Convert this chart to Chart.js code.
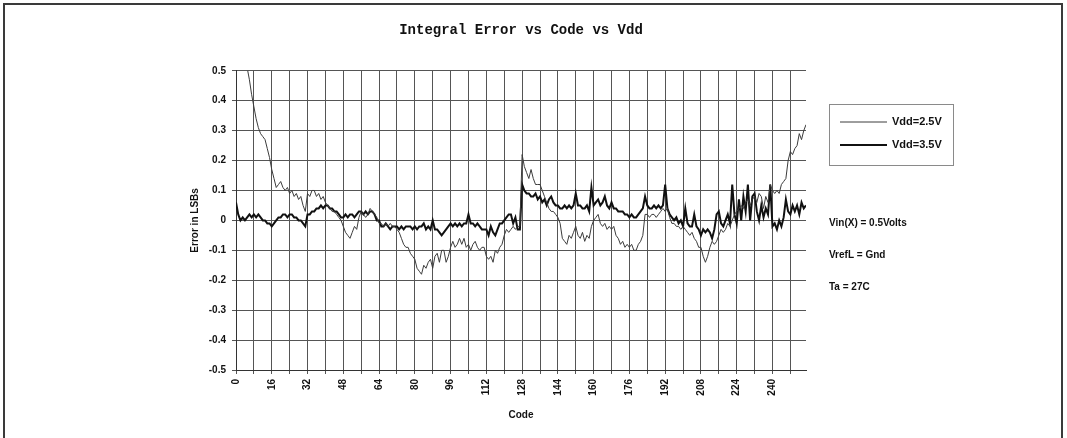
<!DOCTYPE html>
<html>
<head>
<meta charset="utf-8">
<script src="https://cdn.jsdelivr.net/npm/chart.js@4/dist/chart.umd.min.js"></script>
<style>
  html, body { margin: 0; padding: 0; background: #fff; }
  canvas { display: block; }
</style>
</head>
<body>
<canvas id="myChart" width="1067" height="438"></canvas>
<script>
// Integral error (LSB) per code 0..255
var vdd25 = [
  0.62, 0.60, 0.57, 0.55, 0.53, 0.51, 0.47, 0.42, 0.38, 0.34, 0.31, 0.29, 0.28, 0.27, 0.24, 0.21,
  0.17, 0.14, 0.11, 0.12, 0.13, 0.11, 0.10, 0.11, 0.09, 0.10, 0.08, 0.09, 0.07, 0.08, 0.05, 0.03,
  0.09, 0.08, 0.10, 0.10, 0.08, 0.09, 0.07, 0.08, 0.06, 0.05, 0.04, 0.03, 0.03, 0.02, 0.01, 0.00,
  -0.02, -0.04, -0.05, -0.06, -0.04, -0.02, -0.03, 0.01, 0.03, 0.02, 0.01, 0.02, 0.04, 0.03, 0.02, 0.01,
  -0.01, -0.01, -0.02, -0.01, -0.02, -0.01, -0.02, -0.02, -0.03, -0.04, -0.06, -0.08, -0.09, -0.09, -0.11, -0.12,
  -0.13, -0.16, -0.17, -0.18, -0.15, -0.16, -0.14, -0.13, -0.16, -0.12, -0.11, -0.14, -0.10, -0.10, -0.14, -0.12,
  -0.09, -0.07, -0.09, -0.08, -0.06, -0.08, -0.06, -0.09, -0.08, -0.10, -0.08, -0.07, -0.09, -0.10, -0.09, -0.09,
  -0.12, -0.13, -0.12, -0.14, -0.10, -0.11, -0.09, -0.08, -0.05, -0.03, -0.04, -0.03, -0.02, -0.03, -0.02, -0.02,
  0.22, 0.18, 0.16, 0.14, 0.17, 0.14, 0.12, 0.12, 0.12, 0.10, 0.08, 0.06, 0.04, 0.03, 0.03, 0.02,
  0.01, -0.01, -0.06, -0.07, -0.08, -0.05, -0.06, -0.04, -0.02, -0.05, -0.06, -0.04, -0.07, -0.05, -0.06, -0.02,
  0.00, 0.01, 0.02, -0.01, -0.02, -0.01, -0.03, -0.02, -0.03, -0.02, -0.05, -0.06, -0.08, -0.07, -0.09, -0.08,
  -0.09, -0.08, -0.10, -0.10, -0.08, -0.07, -0.05, 0.02, 0.02, 0.01, 0.02, 0.02, 0.01, 0.02, 0.03, 0.04,
  0.03, 0.04, 0.01, -0.01, -0.01, -0.02, -0.02, -0.03, -0.02, -0.03, -0.04, -0.05, -0.04, -0.06, -0.07, -0.09,
  -0.09, -0.12, -0.14, -0.12, -0.09, -0.07, -0.08, -0.07, -0.05, -0.03, -0.04, -0.03, -0.01, -0.02, 0.00, 0.02,
  0.03, 0.04, 0.05, 0.04, 0.06, 0.07, 0.05, 0.07, 0.08, 0.06, 0.09, 0.08, 0.04, 0.08, 0.06, 0.12,
  0.10, 0.09, 0.10, 0.09, 0.12, 0.13, 0.14, 0.20, 0.23, 0.22, 0.24, 0.25, 0.29, 0.27, 0.30, 0.32
];

var vdd35 = [
  0.06, 0.02, 0.00, 0.01, 0.00, 0.01, 0.02, 0.01, 0.02, 0.01, 0.02, 0.01, 0.00, 0.00, -0.01, -0.01,
  -0.02, -0.01, 0.00, 0.01, 0.01, 0.02, 0.02, 0.01, 0.02, 0.02, 0.01, 0.01, 0.00, 0.00, -0.01, -0.02,
  0.02, 0.02, 0.03, 0.03, 0.04, 0.04, 0.05, 0.04, 0.05, 0.05, 0.04, 0.04, 0.03, 0.03, 0.02, 0.01,
  0.01, 0.02, 0.01, 0.02, 0.02, 0.01, 0.02, 0.03, 0.03, 0.02, 0.03, 0.02, 0.03, 0.03, 0.02, 0.00,
  0.00, -0.02, -0.02, -0.01, -0.02, -0.03, -0.02, -0.02, -0.02, -0.03, -0.02, -0.03, -0.02, -0.02, -0.02, -0.03,
  -0.02, -0.03, -0.02, -0.02, -0.01, -0.03, -0.02, -0.03, 0.00, -0.03, -0.03, -0.04, -0.05, -0.04, -0.03, -0.02,
  -0.01, -0.02, -0.01, -0.02, -0.01, -0.02, -0.01, -0.01, 0.02, -0.01, -0.01, -0.02, -0.01, -0.02, -0.03, -0.03,
  -0.03, -0.05, -0.02, -0.04, -0.05, -0.03, -0.01, -0.01, 0.00, 0.01, 0.02, 0.02, -0.01, 0.01, -0.03, -0.03,
  0.12, 0.10, 0.09, 0.09, 0.08, 0.08, 0.09, 0.07, 0.08, 0.06, 0.07, 0.05, 0.07, 0.08, 0.06, 0.05,
  0.05, 0.04, 0.04, 0.05, 0.04, 0.05, 0.04, 0.05, 0.09, 0.05, 0.05, 0.04, 0.04, 0.05, 0.03, 0.11,
  0.05, 0.06, 0.07, 0.05, 0.06, 0.08, 0.05, 0.04, 0.06, 0.04, 0.04, 0.03, 0.03, 0.03, 0.02, 0.02,
  0.01, 0.02, 0.01, 0.01, 0.02, 0.03, 0.04, 0.08, 0.05, 0.04, 0.04, 0.05, 0.04, 0.05, 0.04, 0.05,
  0.12, 0.04, 0.02, 0.01, 0.00, 0.01, -0.01, 0.00, -0.02, 0.04, -0.01, -0.02, -0.02, 0.02, -0.02, -0.03,
  -0.05, -0.03, -0.04, -0.03, -0.04, -0.06, -0.03, 0.02, 0.03, -0.01, -0.02, 0.00, 0.02, -0.01, 0.12, 0.02,
  -0.01, 0.07, 0.00, 0.08, 0.03, 0.12, 0.00, 0.08, 0.09, 0.03, 0.00, 0.05, 0.01, 0.04, 0.02, 0.12,
  -0.02, -0.01, -0.03, 0.00, -0.02, 0.01, 0.07, 0.03, 0.02, 0.05, 0.03, 0.05, 0.02, 0.06, 0.04, 0.05
];

var seriesNames = ['Vdd=2.5V', 'Vdd=3.5V'];
var notes = ['Vin(X) = 0.5Volts', 'VrefL = Gnd', 'Ta = 27C'];

function toPoints(values) {
  return values.map(function (v, i) { return { x: i, y: v }; });
}

var sansBold = { family: "'Liberation Sans', Arial, sans-serif", size: 10, weight: 'bold' };

// page frame, boxed legend and the condition notes on the right
var extras = {
  id: 'extras',
  afterDraw: function (chart) {
    var c = chart.ctx;
    c.save();
    c.strokeStyle = '#3a3a3a';
    c.lineWidth = 2;
    c.beginPath();
    c.moveTo(4, 438); c.lineTo(4, 4); c.lineTo(1062, 4); c.lineTo(1062, 438);
    c.stroke();

    c.strokeStyle = '#8a8a8a';
    c.lineWidth = 1;
    c.strokeRect(829.5, 104.5, 124, 61);

    c.font = "bold 11px 'Liberation Sans', Arial, sans-serif";
    c.textBaseline = 'middle';
    c.fillStyle = '#111';
    chart.data.datasets.forEach(function (ds, i) {
      var y = 122 + i * 23;
      c.strokeStyle = ds.borderColor;
      c.lineWidth = ds.borderWidth;
      c.beginPath();
      c.moveTo(840, y); c.lineTo(887, y);
      c.stroke();
      c.fillText(ds.label, 892, y);
    });

    c.font = "bold 10px 'Liberation Sans', Arial, sans-serif";
    notes.forEach(function (t, i) {
      c.fillText(t, 829, 223 + i * 32);
    });
    c.restore();
  }
};

var ctx = document.getElementById('myChart').getContext('2d');
var myChart = new Chart(ctx, {
  type: 'line',
  data: {
    datasets: [{
      label: seriesNames[0],
      data: toPoints(vdd25),
      borderColor: '#3c3c3c',
      borderWidth: 1,
      pointRadius: 0,
      tension: 0
    }, {
      label: seriesNames[1],
      data: toPoints(vdd35),
      borderColor: '#111',
      borderWidth: 2,
      pointRadius: 0,
      tension: 0
    }]
  },
  options: {
    responsive: false,
    animation: false,
    layout: { padding: { left: 184, right: 261, top: 0, bottom: 14 } },
    plugins: {
      legend: { display: false },
      tooltip: { enabled: false },
      title: {
        display: true,
        fullSize: false,
        text: 'Integral Error vs Code vs Vdd',
        color: '#111',
        font: { family: "'Liberation Mono', 'Courier New', monospace", size: 14, weight: 'bold' },
        padding: { top: 22, bottom: 32 }
      }
    },
    scales: {
      x: {
        type: 'linear',
        min: 0,
        max: 255,
        afterFit: function (s) { s.height = 54; },
        grid: { color: '#555', lineWidth: 1, tickLength: 4, tickColor: '#555' },
        border: { color: '#333', width: 1 },
        ticks: {
          stepSize: 8,
          includeBounds: false,
          autoSkip: false,
          minRotation: 90,
          maxRotation: 90,
          padding: 5,
          color: '#111',
          font: sansBold,
          callback: function (v) { return v % 16 === 0 ? String(v) : ''; }
        },
        title: { display: true, text: 'Code', color: '#111', font: sansBold, padding: { top: 2, bottom: 3 } }
      },
      y: {
        min: -0.5,
        max: 0.5,
        afterFit: function (s) { s.width = 52; },
        grid: { color: '#555', lineWidth: 1, tickLength: 4, tickColor: '#555' },
        border: { color: '#333', width: 1 },
        ticks: {
          stepSize: 0.1,
          padding: 6,
          color: '#111',
          font: sansBold,
          callback: function (v) { return String(Math.round(v * 10) / 10); }
        },
        title: { display: true, text: 'Error in LSBs', color: '#111', font: sansBold, padding: { top: 5, bottom: 0 } }
      }
    }
  },
  plugins: [extras]
});
</script>
</body>
</html>
